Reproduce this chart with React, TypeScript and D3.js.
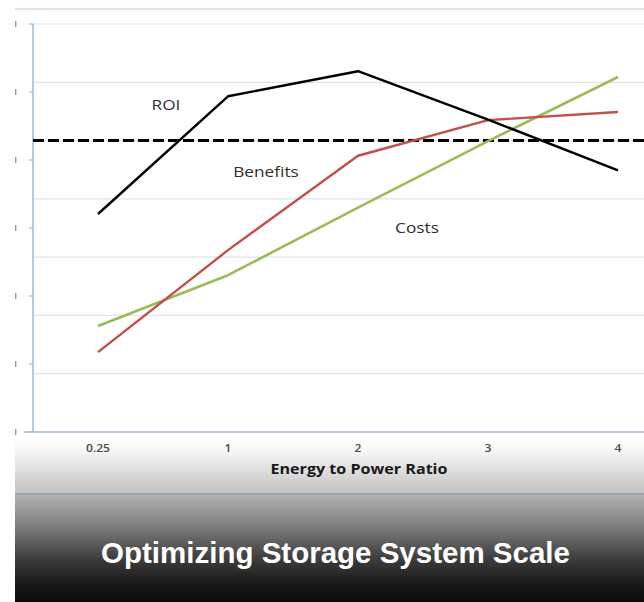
import React from "react";
import * as d3 from "d3";

const categories = ["0.25", "1", "2", "3", "4"];
const roi = [3.74, 5.76, 6.19, 5.36, 4.49];
const benefits = [1.37, 3.12, 4.74, 5.35, 5.49];
const costs = [1.82, 2.69, 3.85, 4.99, 6.09];
const breakEven = 5;
const gridValues = [1, 2, 3, 4, 5, 6, 7];
const tickValues = d3.range(0, 7.001, 7 / 6);
const seriesLabels = [
  { name: "ROI", cat: "1", value: 5.52, dx: -62 },
  { name: "Benefits", cat: "1", value: 4.38, dx: 38 },
  { name: "Costs", cat: "2", value: 3.41, dx: 59 },
];

const W = 644;
const H = 602;

export default function App() {
  const x = d3.scalePoint<string>().domain(categories).range([98, 618]);
  const y = d3.scaleLinear().domain([0, 7]).range([432, 24]);
  const line = d3
    .line<number>()
    .x((_, i) => x(categories[i]) as number)
    .y((d) => y(d));

  const labelFont = "'Open Sans', 'DejaVu Sans', sans-serif";

  return (
    <div style={{ position: "fixed", left: 0, top: 0, width: W, height: H }}>
      <svg width={W} height={H} style={{ display: "block" }}>
        <defs>
          <linearGradient id="upperGrad" x1="0" y1="0" x2="0" y2="1">
            <stop offset="0" stopColor="#ffffff" />
            <stop offset="0.25" stopColor="#f6f6f6" />
            <stop offset="1" stopColor="#c2c2c2" />
          </linearGradient>
          <linearGradient id="lowerGrad" x1="0" y1="0" x2="0" y2="1">
            <stop offset="0" stopColor="#b2b2b2" />
            <stop offset="0.3" stopColor="#7c7c7c" />
            <stop offset="0.6" stopColor="#3c3c3c" />
            <stop offset="0.85" stopColor="#171717" />
            <stop offset="1" stopColor="#0a0a0a" />
          </linearGradient>
        </defs>
        <rect x={0} y={0} width={W} height={H} fill="#ffffff" />
        {/* top slide edge */}
        <rect x={15} y={8} width={W - 15} height={2} fill="#dbe5f1" />

        {/* bottom panels */}
        <rect x={15} y={437} width={W - 15} height={56} fill="url(#upperGrad)" />
        <rect x={15} y={493} width={W - 15} height={2} fill="#98a4ae" />
        <rect x={15} y={495} width={W - 15} height={H - 495} fill="url(#lowerGrad)" />

        {/* gridlines */}
        {gridValues.map((v) => (
          <line
            key={"g" + v}
            x1={33}
            x2={W}
            y1={y(v)}
            y2={y(v)}
            stroke="#dde4ec"
            strokeWidth={1.2}
          />
        ))}

        {/* y axis */}
        <line x1={33} x2={33} y1={y(7)} y2={y(0)} stroke="#9fbad3" strokeWidth={1.5} />
        {tickValues.map((v, i) => (
          <g key={"t" + i}>
            <line x1={29} x2={33} y1={y(v)} y2={y(v)} stroke="#9fbad3" strokeWidth={1.2} />
            <rect x={15} y={y(v) - 3} width={1.4} height={6} fill="#9a9a9a" />
          </g>
        ))}
        {/* x axis */}
        <line x1={24} x2={W} y1={y(0)} y2={y(0)} stroke="#9fbad3" strokeWidth={1.5} />

        {/* break-even dashed */}
        <line
          x1={33}
          x2={W}
          y1={y(breakEven)}
          y2={y(breakEven)}
          stroke="#000"
          strokeWidth={3}
          strokeDasharray="11 4"
        />

        {/* series */}
        <path d={line(costs) || ""} fill="none" stroke="#9bbb59" strokeWidth={2.6} strokeLinejoin="round" />
        <path d={line(benefits) || ""} fill="none" stroke="#c0504d" strokeWidth={2.4} strokeLinejoin="round" />
        <path d={line(roi) || ""} fill="none" stroke="#000000" strokeWidth={2.4} strokeLinejoin="round" />

        {/* series labels */}
        {seriesLabels.map((l) => (
          <text
            key={l.name}
            transform={`translate(${(x(l.cat) as number) + l.dx},${y(l.value)}) scale(1.15,1)`}
            textAnchor="middle"
            fontFamily={labelFont}
            fontSize={15}
            fill="#2e2e2e"
          >
            {l.name}
          </text>
        ))}

        {/* x tick labels */}
        {categories.map((c) => (
          <text
            key={"x" + c}
            transform={`translate(${x(c)},452) scale(1.15,1)`}
            textAnchor="middle"
            fontFamily={labelFont}
            fontWeight={600}
            fontSize={10.5}
            fill="#4a4a4a"
          >
            {c}
          </text>
        ))}

        {/* x axis title */}
        <text
          transform={`translate(${((x("1") as number) + (x("3") as number)) / 2 + 1},474) scale(1.15,1)`}
          textAnchor="middle"
          fontFamily={labelFont}
          fontWeight={700}
          fontSize={14}
          fill="#1a1a1a"
        >
          Energy to Power Ratio
        </text>

        {/* slide title */}
        <text
          x={335.5}
          y={563}
          textAnchor="middle"
          fontFamily="'Liberation Sans', Arial, sans-serif"
          fontWeight={700}
          fontSize={29.5}
          fill="#ffffff"
        >
          Optimizing Storage System Scale
        </text>
      </svg>
    </div>
  );
}
